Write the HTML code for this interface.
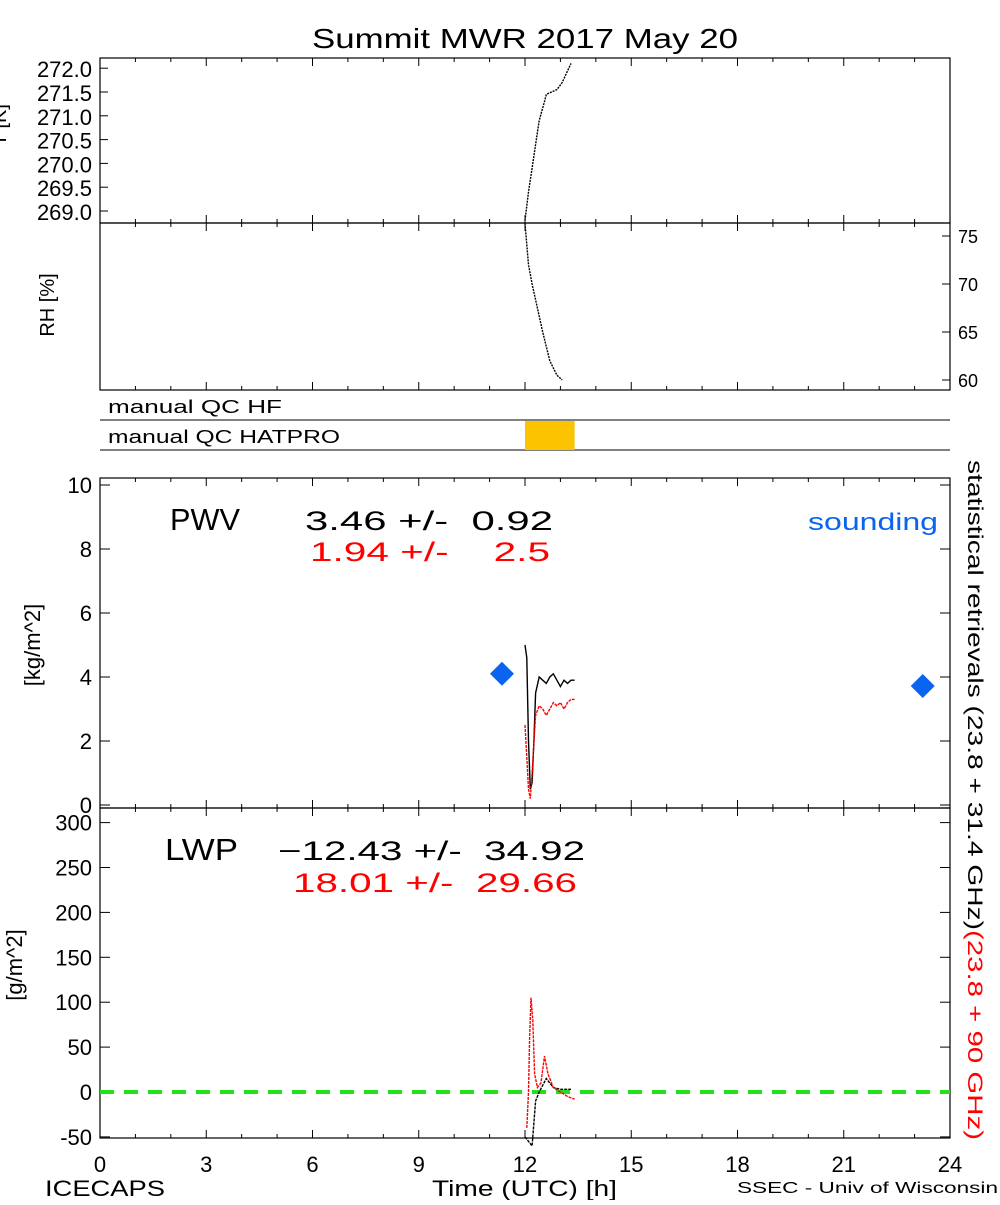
<!DOCTYPE html>
<html><head><meta charset="utf-8"><style>
body{margin:0;background:#fff}
svg text{font-family:"Liberation Sans",sans-serif;white-space:pre}
</style></head><body>
<svg id="c" width="1000" height="1200" xmlns="http://www.w3.org/2000/svg"></svg>
<script>
const xTicks=[0,3,6,9,12,15,18,21,24];
const tTicks=[269.0,269.5,270.0,270.5,271.0,271.5,272.0];
const rhTicks=[60,65,70,75];
const pwvTicks=[0,2,4,6,8,10];
const lwpTicks=[-50,0,50,100,150,200,250,300];
const tTime=[12.0,12.1,12.2,12.3,12.4,12.55,12.6,12.9,13.05,13.3];
const tVal=[268.8,269.4,269.9,270.4,270.9,271.3,271.45,271.55,271.7,272.1];
const rhTime=[12.0,12.1,12.2,12.35,12.5,12.7,12.9,13.05];
const rhVal=[76.3,72,70,67.5,65,62,60.5,60];
const pwvTime=[12.0,12.05,12.1,12.15,12.2,12.25,12.3,12.4,12.5,12.6,12.7,12.8,12.9,13.0,13.1,13.2,13.3,13.4];
const pwvBlack=[5.0,4.6,2.0,0.5,0.7,2.0,3.5,4.0,3.9,3.8,4.0,4.1,3.9,3.7,3.9,3.8,3.9,3.9];
const pwvRedTime=[12.0,12.05,12.1,12.15,12.2,12.3,12.4,12.5,12.6,12.7,12.8,12.9,13.0,13.1,13.2,13.3,13.4];
const pwvRed=[2.5,1.5,0.5,0.2,1.0,2.8,3.1,3.0,2.8,3.0,3.2,3.1,3.2,3.0,3.2,3.3,3.3];
const sondeTime=[11.35,23.23];
const sondeVal=[4.1,3.72];
const lwpRedTime=[12.05,12.1,12.13,12.17,12.22,12.27,12.35,12.45,12.55,12.65,12.8,13.0,13.2,13.4];
const lwpRed=[-40,0,60,105,80,20,5,10,40,20,5,0,-5,-8];
const lwpBlackTime=[12.0,12.2,12.3,12.4,12.6,12.8,13.0,13.3];
const lwpBlack=[-50,-60,-10,0,15,5,3,3];
const qcStart=[12.0], qcEnd=[13.4];

const NS="http://www.w3.org/2000/svg", svg=document.getElementById('c');
function el(t,a,p){const e=document.createElementNS(NS,t);for(const k in a)e.setAttribute(k,a[k]);(p||svg).appendChild(e);return e;}
function txt(s,a,w){if(w){a.textLength=w;a.lengthAdjust='spacingAndGlyphs';}const e=el('text',a);e.textContent=s;return e;}
const X=h=>100+h*850/24;
const yT=v=>211-(v-269)*47.6;
const yRH=v=>236+(75-v)*9.6;
const yP=v=>805-v*32;
const yL=v=>1092-v*0.898;

txt('Summit MWR 2017 May 20',{x:312,y:48,'font-size':28,},426);
function box(y0,y1,name){const r=el('rect',{x:100,y:y0,width:850,height:y1-y0,fill:'none',stroke:'#000','stroke-width':1.2});
 for(let h=0;h<=24;h++){const L=h%3==0?8:4;el('line',{x1:X(h),x2:X(h),y1:y1,y2:y1-L,stroke:'#000'});el('line',{x1:X(h),x2:X(h),y1:y0,y2:y0+L,stroke:'#000'});}}
box(58,223,'temperature-panel');box(223,390,'rh-panel');box(478,808,'pwv-panel');box(808,1138,'lwp-panel');
el('line',{x1:100,x2:950,y1:420,y2:420,stroke:'#000'});el('line',{x1:100,x2:950,y1:450,y2:450,stroke:'#000'});
txt('manual QC HF',{x:108,y:413,'font-size':18,},174);
txt('manual QC HATPRO',{x:108,y:443,'font-size':18,},232);
qcStart.forEach((s,i)=>{const r=el('rect',{x:X(s),y:421,width:X(qcEnd[i])-X(s),height:29,fill:'#fcc400'});

});
tTicks.forEach(v=>{el('line',{x1:100,x2:108,y1:yT(v),y2:yT(v),stroke:'#000'});txt(v.toFixed(1),{x:92,y:yT(v)+9,'font-size':22,'text-anchor':'end'});});
rhTicks.forEach(v=>{el('line',{x1:950,x2:942,y1:yRH(v),y2:yRH(v),stroke:'#000'});txt(String(v),{x:958,y:yRH(v)+7,'font-size':18});});
pwvTicks.forEach(v=>{el('line',{x1:100,x2:110,y1:yP(v),y2:yP(v),stroke:'#000'});el('line',{x1:950,x2:940,y1:yP(v),y2:yP(v),stroke:'#000'});txt(String(v),{x:92,y:yP(v)+8,'font-size':22,'text-anchor':'end'});});
lwpTicks.forEach(v=>{el('line',{x1:100,x2:110,y1:yL(v),y2:yL(v),stroke:'#000'});el('line',{x1:950,x2:940,y1:yL(v),y2:yL(v),stroke:'#000'});txt(String(v),{x:92,y:yL(v)+8,'font-size':22,'text-anchor':'end'});});
xTicks.forEach(h=>txt(String(h),{x:X(h),y:1172,'font-size':22,'text-anchor':'middle'}));
txt('T [K]',{x:0,y:0,'font-size':20,'text-anchor':'middle',transform:'translate(6,125) rotate(-90)'});
txt('RH [%]',{x:0,y:0,'font-size':20,'text-anchor':'middle',transform:'translate(54,305) rotate(-90)',});
txt('[kg/m^2]',{x:0,y:0,'font-size':22,'text-anchor':'middle',transform:'translate(40,645) rotate(-90)',});
txt('[g/m^2]',{x:0,y:0,'font-size':22,'text-anchor':'middle',transform:'translate(22,965) rotate(-90)',});
txt('statistical retrievals (23.8 + 31.4 GHz)',{transform:'translate(968,460) rotate(90)','font-size':21,},470);
txt('(23.8 + 90 GHz)',{transform:'translate(968,930) rotate(90)','font-size':21,fill:'#f00',},210);
txt('PWV',{x:170,y:530,'font-size':31},70);
txt('3.46 +/-  0.92',{x:305,y:530,'font-size':27},248);
txt('1.94 +/-    2.5',{x:310,y:561,'font-size':27,fill:'#f00'},240);
txt('sounding',{x:808,y:530,'font-size':24,fill:'#0a64f0'},130);
txt('LWP',{x:165,y:860,'font-size':31},73);
txt('\u221212.43 +/-  34.92',{x:278,y:860,'font-size':27},307);
txt('18.01 +/-  29.66',{x:293,y:892,'font-size':27,fill:'#f00'},284);
txt('ICECAPS',{x:45,y:1196,'font-size':22},120);
txt('Time (UTC) [h]',{x:432,y:1196,'font-size':22,},185);
txt('SSEC - Univ of Wisconsin',{x:737,y:1193,'font-size':16},261);
function line(ts,vs,fy,col,name,dash){const d=ts.map((t,i)=>(i?'L':'M')+X(t).toFixed(1)+','+fy(vs[i]).toFixed(1)).join('');
 const p=el('path',{d:d,fill:'none',stroke:col,'stroke-width':1.4,'stroke-dasharray':dash||'2,1'});
 
 }
el('line',{x1:100,x2:950,y1:yL(0),y2:yL(0),stroke:'#22e01a','stroke-width':4,'stroke-dasharray':'14,10'});
line(tTime,tVal,yT,'#000','temperature-series');
line(rhTime,rhVal,yRH,'#000','rh-series');
line(pwvTime,pwvBlack,yP,'#000','pwv-statistical-series','none');
line(pwvRedTime,pwvRed,yP,'#f00','pwv-90ghz-series','3,1');
line(lwpBlackTime,lwpBlack,yL,'#000','lwp-statistical-series','3,1');
line(lwpRedTime,lwpRed,yL,'#f00','lwp-90ghz-series','3,1');
sondeTime.forEach((t,i)=>{const x=X(t),y=yP(sondeVal[i]);
 const p=el('polygon',{points:`${x},${y-12} ${x+12},${y} ${x},${y+12} ${x-12},${y}`,fill:'#0a64f0'});
 
 });
</script>
</body></html>
